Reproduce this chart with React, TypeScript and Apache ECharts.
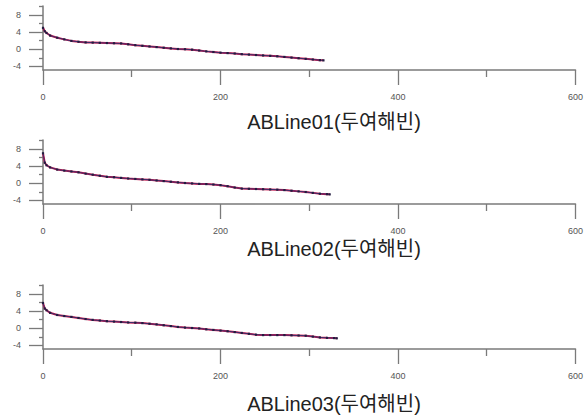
import React, { useEffect, useRef } from "react";
import * as echarts from "echarts";

const TITLES = ["ABLine01(두여해빈)", "ABLine02(두여해빈)", "ABLine03(두여해빈)"];
const X_MAJOR_TICKS = [0, 200, 400, 600];
const X_MINOR_TICKS = [100, 300, 500];
const Y_MAJOR_TICKS = [-4, 0, 4, 8];
const Y_MINOR_TICKS = [-2, 2, 6, 10];

const P1_X = [0, 2, 4, 8, 16, 24, 32, 40, 48, 56, 64, 72, 80, 88, 96, 104, 112, 120, 128, 136, 144, 152, 160, 168, 176, 184, 192, 200, 208, 216, 224, 232, 240, 248, 256, 264, 272, 280, 288, 296, 304, 312, 316];
const P1_Y = [5.0, 4.2, 3.8, 3.2, 2.7, 2.3, 1.95, 1.75, 1.6, 1.55, 1.5, 1.45, 1.4, 1.35, 1.15, 0.95, 0.8, 0.65, 0.5, 0.35, 0.2, 0.05, 0.0, -0.1, -0.3, -0.5, -0.65, -0.8, -0.9, -1.0, -1.15, -1.25, -1.35, -1.45, -1.55, -1.65, -1.8, -1.95, -2.1, -2.25, -2.4, -2.55, -2.6];

const P2_X = [0, 2, 4, 8, 16, 24, 32, 40, 48, 56, 64, 72, 80, 88, 96, 104, 112, 120, 128, 136, 144, 152, 160, 168, 176, 184, 192, 200, 208, 216, 224, 232, 240, 248, 256, 264, 272, 280, 288, 296, 304, 312, 320, 323];
const P2_Y = [7.0, 4.8, 4.2, 3.7, 3.2, 2.95, 2.75, 2.55, 2.25, 2.0, 1.75, 1.5, 1.4, 1.25, 1.1, 1.0, 0.9, 0.8, 0.65, 0.5, 0.35, 0.2, 0.05, -0.05, -0.15, -0.2, -0.3, -0.45, -0.7, -1.0, -1.25, -1.3, -1.35, -1.4, -1.45, -1.5, -1.6, -1.75, -1.9, -2.05, -2.25, -2.45, -2.55, -2.6];

const P3_X = [0, 2, 4, 8, 16, 24, 32, 40, 48, 56, 64, 72, 80, 88, 96, 104, 112, 120, 128, 136, 144, 152, 160, 168, 176, 184, 192, 200, 208, 216, 224, 232, 240, 248, 256, 264, 272, 280, 288, 296, 304, 312, 320, 328, 331];
const P3_Y = [5.9, 4.6, 4.2, 3.6, 3.1, 2.85, 2.65, 2.4, 2.15, 1.95, 1.8, 1.65, 1.55, 1.45, 1.35, 1.3, 1.2, 1.05, 0.9, 0.7, 0.5, 0.3, 0.15, 0.05, -0.05, -0.25, -0.4, -0.55, -0.7, -0.9, -1.1, -1.3, -1.5, -1.6, -1.6, -1.6, -1.6, -1.65, -1.7, -1.75, -1.95, -2.15, -2.25, -2.3, -2.35];

const PANELS = [
  { x: P1_X, y: P1_Y },
  { x: P2_X, y: P2_Y },
  { x: P3_X, y: P3_Y },
];

const GRID_TOPS = [6, 140, 285];
const GRID_H = 64;
const TITLE_Y = [122, 249, 404];
const Y_MIN = -4.85;
const Y_MAX = 10.1;
const AXIS_COLOR = "#7a7a7a";
const LABEL_COLOR = "#555";
const FONT = "'Liberation Sans', Arial, 'Noto Sans CJK KR', sans-serif";

export default function App() {
  const ref = useRef<HTMLDivElement>(null);
  useEffect(() => {
    if (!ref.current) return;
    const chart = echarts.init(ref.current, undefined, { renderer: "svg" });
    const grid: any[] = [];
    const xAxis: any[] = [];
    const yAxis: any[] = [];
    const series: any[] = [];
    const graphic: any[] = [];
    PANELS.forEach((p, i) => {
      grid.push({ left: 43, right: 5, top: GRID_TOPS[i], height: GRID_H });
      xAxis.push({
        type: "value", gridIndex: i, min: 0, max: 600, interval: 200, position: "bottom",
        splitLine: { show: false },
        axisLine: { show: true, onZero: false, lineStyle: { color: AXIS_COLOR, width: 1.5 } },
        axisTick: { show: true, length: 15, customValues: X_MAJOR_TICKS, lineStyle: { color: AXIS_COLOR, width: 1.3 } },
        axisLabel: { show: true, customValues: X_MAJOR_TICKS, margin: 22, fontSize: 9, color: LABEL_COLOR, fontFamily: FONT, showMaxLabel: true, showMinLabel: true },
      });
      xAxis.push({
        type: "value", gridIndex: i, min: 0, max: 600, position: "bottom",
        splitLine: { show: false },
        axisLine: { show: false, onZero: false },
        axisTick: { show: true, length: 7, customValues: X_MINOR_TICKS, lineStyle: { color: AXIS_COLOR, width: 1.3 } },
        axisLabel: { show: false },
      });
      yAxis.push({
        type: "value", gridIndex: i, min: Y_MIN, max: Y_MAX, position: "left",
        splitLine: { show: false },
        axisLine: { show: true, onZero: false, lineStyle: { color: AXIS_COLOR, width: 1.5 } },
        axisTick: { show: true, length: 14, customValues: Y_MAJOR_TICKS, lineStyle: { color: AXIS_COLOR, width: 1.3 } },
        axisLabel: { show: true, customValues: Y_MAJOR_TICKS, margin: 22, fontSize: 9, color: LABEL_COLOR, fontFamily: FONT },
      });
      yAxis.push({
        type: "value", gridIndex: i, min: Y_MIN, max: Y_MAX, position: "left",
        splitLine: { show: false },
        axisLine: { show: false, onZero: false },
        axisTick: { show: true, length: 4, customValues: Y_MINOR_TICKS, lineStyle: { color: AXIS_COLOR, width: 1.3 } },
        axisLabel: { show: false },
      });
      const data = p.x.map((xv, k) => [xv, p.y[k]]);
      series.push({
        type: "line", xAxisIndex: i * 2, yAxisIndex: i * 2, data,
        showSymbol: false, symbol: "none",
        lineStyle: { color: "#c8174a", width: 2 },
      });
      series.push({
        type: "line", xAxisIndex: i * 2, yAxisIndex: i * 2, data,
        symbol: "rect", symbolSize: 2.2, showSymbol: true,
        itemStyle: { color: "#231c40" },
        lineStyle: { color: "#3a2f6e", width: 1 },
      });
      graphic.push({
        type: "text", x: 334, y: TITLE_Y[i],
        style: { text: TITLES[i], fill: "#222", font: `20px ${FONT}`, align: "center", verticalAlign: "middle" },
      });
    });
    chart.setOption({
      animation: false,
      backgroundColor: "#fff",
      grid, xAxis, yAxis, series, graphic,
    });
    return () => chart.dispose();
  }, []);
  return <div ref={ref} style={{ position: "fixed", left: 0, top: 0, width: 586, height: 418 }} />;
}
